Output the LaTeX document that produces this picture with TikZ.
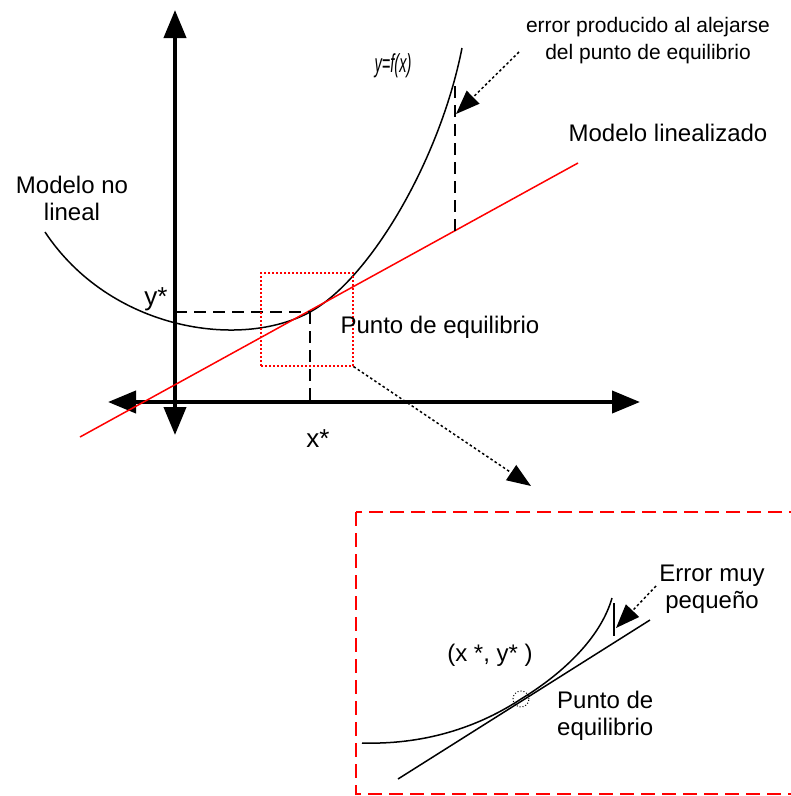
\documentclass[tikz,border=0pt]{standalone}
\usepackage{fontspec}
\setmainfont{Liberation Sans}
\usetikzlibrary{arrows.meta, positioning, calc}

\begin{document}
\begin{tikzpicture}[
    x=1pt, y=-1pt,
    axis/.style={line width=4pt, {Triangle[length=28pt,width=22pt]}-{Triangle[length=28pt,width=22pt]}},
    curve/.style={line width=1.5pt, black},
    tangent/.style={line width=1.5pt, red},
    guide/.style={line width=1.2pt, dash pattern=on 12pt off 7pt},
    pointer/.style={line width=1.5pt, dash pattern=on 2.5pt off 2.5pt, -{Triangle[length=24pt,width=18pt]}},
    bigtxt/.style={font=\fontsize{24}{27}\selectfont, inner sep=0pt, align=center},
    smalltxt/.style={font=\fontsize{21}{27}\selectfont, inner sep=0pt, align=center}
]
\useasboundingbox (0,0) rectangle (791,796);

% ejes
\draw[axis] (108,402) -- (640,402);
\draw[axis] (175,10) -- (175,435);

% modelo no lineal y linealizado
\coordinate (eq) at (310,312);
\draw[curve] (45,232) .. controls (110,330) and (240,350) .. (eq)
    .. controls (370,279) and (440,160) .. (462,48);
\draw[tangent] (80,437) -- (578,163);

\draw[guide] (175,312) -- (eq);
\draw[guide] (eq) -- (310,402);
\draw[guide] (455,86) -- (455,231);

\node[draw=red, line width=1.2pt, dash pattern=on 2pt off 2pt, minimum width=92pt, minimum height=93pt, inner sep=0pt] (zoomwin) at (307,319.5) {};

\node[bigtxt, font=\fontsize{26}{27}\selectfont] (ystar) at (156,299) {y*};
\node[bigtxt, font=\fontsize{26}{27}\selectfont] (xstar) at (318,439) {x*};
\node[inner sep=0pt] (fx) at (393,66) {\scalebox{0.56}[1]{\fontsize{26}{28}\itshape y=f(x)}};
\node[bigtxt] (nolin) at (72,198) {Modelo no\\lineal};
\node[bigtxt] (lin) at (668,133) {Modelo linealizado};
\node[bigtxt] (punto) at (440,327) {Punto de equilibrio};
\node[smalltxt] (errtop) at (648,41) {error producido al alejarse\\del punto de equilibrio};

\coordinate (errtail) at (519,52);
\coordinate (errtip) at (456,114);
\draw[pointer] (errtail) -- (errtip);

\coordinate (zoomtip) at (531,486);
\draw[pointer] (zoomwin.south east) -- (zoomtip);

% detalle ampliado
\draw[red, line width=1.2pt, dash pattern=on 14pt off 7pt] (356,512) rectangle (812,794);
\node[circle, draw, dotted, line width=1pt, minimum size=16pt, inner sep=0pt] (eqpt) at (521,699) {};
\draw[curve] (362,743) .. controls (430,745) and (483,724) .. (eqpt.center)
    .. controls (559,676) and (600,640) .. (612,598);
\draw[curve] (398,779) -- (650,620);
\draw[line width=1.5pt] (614,603) -- (614,636);

\node[bigtxt] (coord) at (490,655) {(x *, y* )};
\node[bigtxt] (errsmall) at (712,589) {Error muy\\peque\~no};
\node[bigtxt, align=left, anchor=west] (puntosmall) at (557,716) {Punto de\\equilibrio};

\coordinate (smalltail) at (656,586);
\coordinate (smalltip) at (616,628);
\draw[pointer] (smalltail) -- (smalltip);
\end{tikzpicture}
\end{document}
